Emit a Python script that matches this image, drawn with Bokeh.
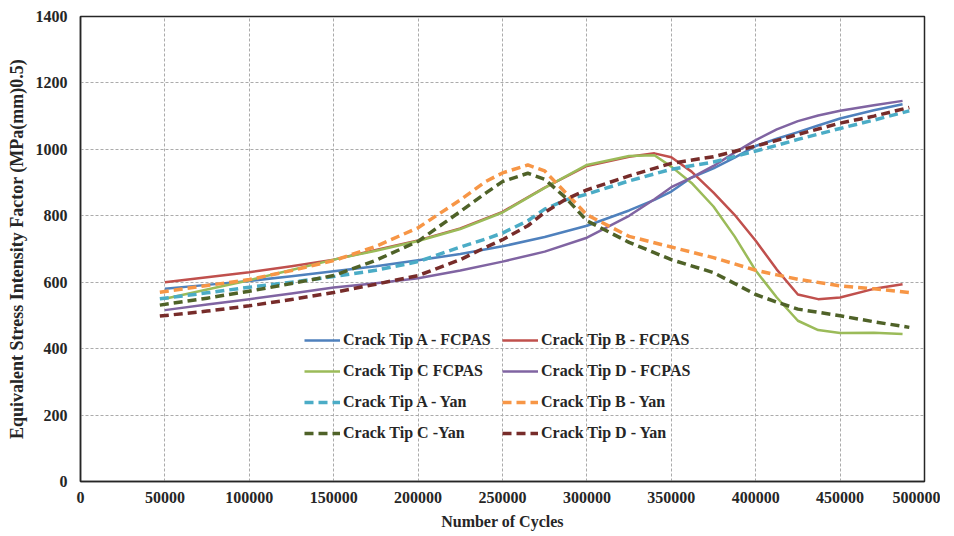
from bokeh.plotting import figure
from bokeh.models import Range1d, Legend, LegendItem, FixedTicker, NumeralTickFormatter
from bokeh.embed import file_html
from bokeh.resources import INLINE

# ---- data ----
x_fcpas = [50000, 75000, 100000, 125000, 150000, 175000, 200000, 225000, 250000,
           275000, 300000, 325000, 340000, 350000, 362000, 375000, 387500, 400000,
           412500, 425000, 437000, 450000, 470000, 487000]
tip_a_fcpas = [580, 592, 604, 618, 633, 648, 666, 685, 708,
               736, 770, 816, 848, 873, 915, 943, 975, 1010,
               1032, 1052, 1072, 1093, 1118, 1136]
tip_b_fcpas = [600, 615, 630, 648, 668, 697, 726, 762, 812,
               885, 950, 978, 988, 976, 933, 870, 803, 725,
               638, 563, 549, 554, 580, 594]
tip_c_fcpas = [550, 578, 606, 637, 668, 695, 724, 760, 810,
               884, 953, 980, 982, 948, 899, 828, 738, 635,
               554, 484, 456, 447, 448, 444]
tip_d_fcpas = [516, 533, 549, 566, 584, 597, 612, 635, 662,
               692, 734, 800, 850, 886, 915, 950, 990, 1028,
               1060, 1085, 1102, 1116, 1133, 1146]

x_yan = [47000, 75000, 100000, 125000, 150000, 175000, 200000, 225000, 240000,
         250000, 265000, 275000, 287500, 300000, 325000, 350000, 375000, 400000,
         412500, 425000, 450000, 470000, 491000]
tip_a_yan = [550, 568, 585, 600, 617, 636, 662, 706, 730,
             748, 785, 820, 848, 865, 905, 940, 962, 995,
             1012, 1030, 1063, 1088, 1116]
tip_b_yan = [570, 590, 608, 635, 665, 708, 764, 848, 903,
             929, 953, 935, 869, 803, 738, 706, 674, 636,
             622, 609, 589, 580, 569]
tip_c_yan = [531, 552, 573, 596, 620, 666, 723, 813, 868,
             903, 928, 910, 854, 785, 720, 668, 629, 563,
             540, 519, 499, 481, 464]
tip_d_yan = [498, 513, 529, 548, 569, 594, 620, 668, 705,
             728, 770, 810, 850, 878, 920, 958, 978, 1010,
             1027, 1045, 1079, 1100, 1126]

x_ticks = [0, 50000, 100000, 150000, 200000, 250000, 300000, 350000, 400000, 450000, 500000]
y_ticks = [0, 200, 400, 600, 800, 1000, 1200, 1400]

labels = ["Crack Tip A - FCPAS", "Crack Tip B - FCPAS", "Crack Tip C FCPAS", "Crack Tip D - FCPAS",
          "Crack Tip A - Yan", "Crack Tip B - Yan", "Crack Tip C -Yan", "Crack Tip D - Yan"]

FONT = "Liberation Serif"

p = figure(width=940, height=532, output_backend="svg", toolbar_location=None,
           x_range=Range1d(0, 500000), y_range=Range1d(0, 1400),
           min_border_left=80, min_border_right=16, min_border_top=16, min_border_bottom=49)
p.background_fill_color = "white"
p.border_fill_color = "white"
p.outline_line_color = "#262626"
p.outline_line_width = 1.5

for ax in (p.xaxis[0], p.yaxis[0]):
    ax.major_label_text_font = FONT
    ax.major_label_text_font_style = "bold"
    ax.major_label_text_font_size = "16px"
    ax.major_label_text_color = "#262626"
    ax.axis_label_text_font = FONT
    ax.axis_label_text_font_style = "bold"
    ax.axis_label_text_color = "#262626"
    ax.major_tick_out = 0
    ax.major_tick_in = 0
    ax.minor_tick_out = 0
    ax.minor_tick_in = 0
    ax.axis_line_color = "#262626"
    ax.axis_line_width = 1.5

p.xaxis.axis_label_text_font_size = "16px"
p.yaxis.axis_label_text_font_size = "18px"
p.xaxis.ticker = FixedTicker(ticks=x_ticks)
p.yaxis.ticker = FixedTicker(ticks=y_ticks)
p.xaxis.formatter = NumeralTickFormatter(format="0")
p.xaxis.axis_label = "Number of Cycles"
p.yaxis.axis_label = "Equivalent Stress Intensity Factor (MPa(mm)0.5)"
p.xaxis.major_label_standoff = 10
p.yaxis.major_label_standoff = 13
p.xaxis.axis_label_standoff = 7
p.yaxis.axis_label_standoff = 6

for g in (p.xgrid[0], p.ygrid[0]):
    g.grid_line_color = "#ababab"
    g.grid_line_dash = "3 2"
    g.grid_line_width = 1

series = [
    (x_fcpas, tip_a_fcpas, "#4F81BD", "solid", 2.5),
    (x_fcpas, tip_b_fcpas, "#C0504D", "solid", 2.5),
    (x_fcpas, tip_c_fcpas, "#9BBB59", "solid", 2.5),
    (x_fcpas, tip_d_fcpas, "#8064A2", "solid", 2.5),
    (x_yan, tip_a_yan, "#4BACC6", "9 5", 3.5),
    (x_yan, tip_b_yan, "#F79646", "9 5", 3.5),
    (x_yan, tip_c_yan, "#4F6228", "9 5", 3.5),
    (x_yan, tip_d_yan, "#772C2A", "9 5", 3.5),
]

renderers = []
for xs, ys, col, dash, w in series:
    r = p.line(xs, ys, line_color=col, line_width=w, line_dash=dash, line_join="round")
    renderers.append(r)

items = [LegendItem(label=lab, renderers=[r]) for lab, r in zip(labels, renderers)]
legend = Legend(items=items, location=(224, 38), orientation="horizontal", ncols=2,
                glyph_width=36, glyph_height=20, label_height=20, label_width=148,
                label_standoff=3, spacing=11, padding=0, margin=0,
                label_text_font=FONT, label_text_font_style="bold",
                label_text_font_size="16px", label_text_color="#262626",
                background_fill_alpha=0, border_line_alpha=0)
p.add_layout(legend, "center")

open("out.html", "w").write(file_html(p, INLINE))
